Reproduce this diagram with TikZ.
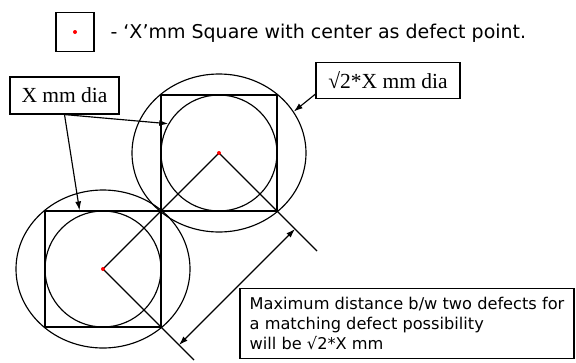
\documentclass[tikz,border=0pt]{standalone}
\usepackage{fontspec}
\setmainfont{Liberation Serif}
\newfontfamily\verdfont{DejaVu Sans}
\usetikzlibrary{arrows.meta,shapes.geometric,calc}
\tikzset{
  lbl/.style={draw, inner sep=0pt, font=\fontsize{21.5}{24}\selectfont},
  defect/.style={circle, fill=red, inner sep=0pt, minimum size=4pt},
  sqbox/.style={draw, minimum size=116pt, inner sep=0pt},
  ptr/.style={-{Latex[length=9pt,width=6pt]}},
  dptr/.style={{Latex[length=9pt,width=6pt]}-{Latex[length=9pt,width=6pt]}},
}
\begin{document}
\begin{tikzpicture}[x=1pt,y=-1pt,line width=1.15pt]
  \useasboundingbox (0,0) rectangle (576,362);
  \node[draw, minimum width=38pt, minimum height=39pt, inner sep=0pt] (legbox) at (75,32) {};
  \node[defect] (legdot) at (legbox.center) {};
  \node[anchor=base west, inner sep=0pt, font=\verdfont\fontsize{19}{22}\selectfont] (legtext) at (110,38) {- ‘X’mm Square with center as defect point.};
  \node[sqbox] (sqlo) at (103,269) {};
  \node[sqbox] (sqhi) at (219,153) {};
  \node[draw, circle, minimum size=116pt, inner sep=0pt] (inlo) at (sqlo.center) {};
  \node[draw, circle, minimum size=116pt, inner sep=0pt] (inhi) at (sqhi.center) {};
  \node[draw, ellipse, minimum width=174pt, minimum height=158pt, inner sep=0pt] (outlo) at (sqlo.center) {};
  \node[draw, ellipse, minimum width=174pt, minimum height=158pt, inner sep=0pt] (outhi) at (sqhi.center) {};
  \coordinate (endhi) at (317,251);
  \coordinate (endlo) at (194,360);
  \draw (sqlo.center) -- (sqhi.center);
  \draw (sqhi.center) -- (endhi);
  \draw (sqlo.center) -- (endlo);
  \node[defect] (dotlo) at (sqlo.center) {};
  \node[defect] (dothi) at (sqhi.center) {};
  \coordinate (ahi) at (295,229);
  \coordinate (alo) at (179,345);
  \draw[dptr] (alo) -- (ahi);
  \node[lbl, minimum width=109pt, minimum height=37pt] (xdia) at (64.5,95.5) {X mm dia};
  \node[lbl, minimum width=144pt, minimum height=36pt] (rtdia) at (388,80.5) {√2*X mm dia};
  \draw[ptr] (xdia.south) -- (inhi.150);
  \draw[ptr] (xdia.south) -- ($(sqlo.north west)!0.3!(sqlo.north east)$);
  \draw[ptr] ([yshift=5pt]rtdia.south west) -- (outhi.29);
  \node[draw, minimum width=334pt, minimum height=70pt, inner sep=0pt, align=left,
    font=\verdfont\fontsize{16.2}{20.3}\selectfont] (maxtext) at (407,323.4)
    {Maximum distance b/w two defects for\\a matching defect possibility\\will be √2*X mm};
\end{tikzpicture}
\end{document}
